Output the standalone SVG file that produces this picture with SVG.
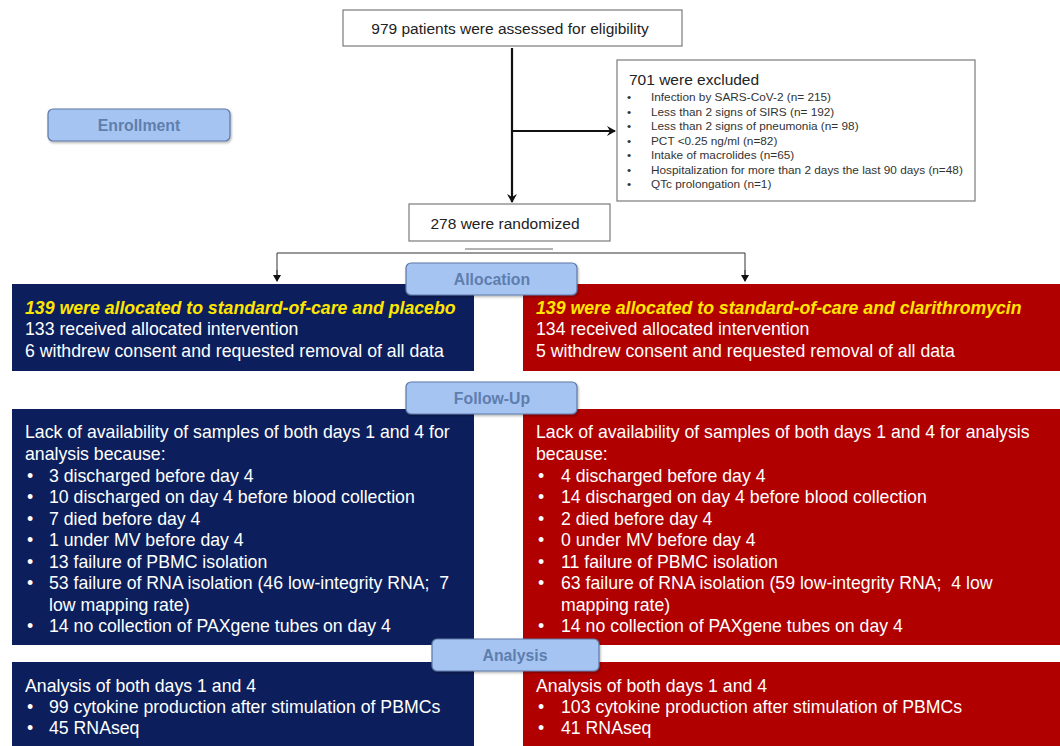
<svg xmlns="http://www.w3.org/2000/svg" width="1060" height="746" viewBox="0 0 1060 746">
<defs>
<style>
text{font-family:"Liberation Sans",Arial,sans-serif;}
.box{fill:#fff;stroke:#7a7a7a;stroke-width:1.2;}
.t14{font-size:15.5px;fill:#222;}
.t11{font-size:11.8px;fill:#333;}
.lbl{fill:#a6c4f2;stroke:#5d78a6;stroke-width:1.2;}
.lblt{font-size:15.8px;font-weight:bold;fill:#5e7eae;text-anchor:middle;}
.blue{fill:#0c1f5c;}
.red{fill:#b10000;}
.w{font-size:17.7px;fill:#fff;}
.y{font-size:17.7px;fill:#ffe600;font-style:italic;font-weight:bold;}
.thick{stroke:#111;stroke-width:2.2;fill:none;}
.thin{stroke:#333;stroke-width:1;fill:none;}
</style>
<marker id="ah" markerWidth="10" markerHeight="10" refX="8" refY="5" orient="auto" markerUnits="userSpaceOnUse">
<path d="M0,0 L9,5 L0,10 L3,5 Z" fill="#111"/>
</marker>
<marker id="ahs" markerWidth="8" markerHeight="8" refX="6" refY="4" orient="auto" markerUnits="userSpaceOnUse">
<path d="M0,0 L7,4 L0,8 Z" fill="#111"/>
</marker>
<filter id="sh" x="-10%" y="-20%" width="120%" height="150%">
<feDropShadow dx="1" dy="1.5" stdDeviation="1" flood-color="#000" flood-opacity="0.3"/>
</filter>
</defs>
<rect width="1060" height="746" fill="#fff"/>

<g id="connectors">
<path class="thick" d="M512,48 V202" marker-end="url(#ah)"/>
<path class="thick" d="M512,131 H615" marker-end="url(#ah)"/>
<path d="M465,249 H553" stroke="#999" stroke-width="1.5"/>
<path class="thin" d="M277,279 V253 H745 V279"/>
<path class="thin" d="M277,270 V281" marker-end="url(#ahs)"/>
<path class="thin" d="M745,270 V281" marker-end="url(#ahs)"/>
</g>

<g id="assessed">
<rect class="box" x="343" y="10" width="339" height="36"/>
<text class="t14" x="510" y="34" text-anchor="middle">979 patients were assessed for eligibility</text>
</g>

<g id="excluded">
<rect class="box" x="617" y="60" width="358" height="141"/>
<text class="t14" x="629" y="85">701 were excluded</text>
<g class="t11">
<text x="627" y="101">•</text><text x="651" y="101">Infection by SARS-CoV-2 (n= 215)</text>
<text x="627" y="115.5">•</text><text x="651" y="115.5">Less than 2 signs of SIRS (n= 192)</text>
<text x="627" y="130">•</text><text x="651" y="130">Less than 2 signs of pneumonia (n= 98)</text>
<text x="627" y="144.5">•</text><text x="651" y="144.5">PCT &lt;0.25 ng/ml (n=82)</text>
<text x="627" y="159">•</text><text x="651" y="159">Intake of macrolides (n=65)</text>
<text x="627" y="173.5">•</text><text x="651" y="173.5">Hospitalization for more than 2 days the last 90 days (n=48)</text>
<text x="627" y="188">•</text><text x="651" y="188">QTc prolongation (n=1)</text>
</g>
</g>

<g id="randomized">
<rect class="box" x="409" y="204" width="201" height="37"/>
<text class="t14" x="505" y="229" text-anchor="middle">278 were randomized</text>
</g>

<g id="enrollment">
<rect class="lbl" x="48" y="109" width="182" height="32" rx="5" filter="url(#sh)"/>
<text class="lblt" x="139" y="131">Enrollment</text>
</g>

<g id="alloc-placebo">
<rect class="blue" x="12" y="284" width="462" height="87"/>
<text class="y" x="25" y="314">139 were allocated to standard-of-care and placebo</text>
<text class="w" x="25" y="335">133 received allocated intervention</text>
<text class="w" x="25" y="357">6 withdrew consent and requested removal of all data</text>
</g>

<g id="alloc-clari">
<rect class="red" x="523" y="284" width="537" height="87"/>
<text class="y" x="536" y="314">139 were allocated to standard-of-care and clarithromycin</text>
<text class="w" x="536" y="335">134 received allocated intervention</text>
<text class="w" x="536" y="357">5 withdrew consent and requested removal of all data</text>
</g>

<g id="allocation-label">
<rect class="lbl" x="406" y="263" width="171" height="32" rx="5" filter="url(#sh)"/>
<text class="lblt" x="492" y="285">Allocation</text>
</g>

<g id="followup-placebo">
<rect class="blue" x="12" y="409" width="462" height="236"/>
<g class="w">
<text x="25" y="438">Lack of availability of samples of both days 1 and 4 for</text>
<text x="25" y="460">analysis because:</text>
<text x="27" y="482">•</text><text x="49" y="482">3 discharged before day 4</text>
<text x="27" y="503">•</text><text x="49" y="503">10 discharged on day 4 before blood collection</text>
<text x="27" y="525">•</text><text x="49" y="525">7 died before day 4</text>
<text x="27" y="546">•</text><text x="49" y="546">1 under MV before day 4</text>
<text x="27" y="568">•</text><text x="49" y="568">13 failure of PBMC isolation</text>
<text x="27" y="589">•</text><text x="49" y="589">53 failure of RNA isolation (46 low-integrity RNA;&#160; 7</text>
<text x="49" y="611">low mapping rate)</text>
<text x="27" y="632">•</text><text x="49" y="632">14 no collection of PAXgene tubes on day 4</text>
</g>
</g>

<g id="followup-clari">
<rect class="red" x="523" y="409" width="537" height="236"/>
<g class="w">
<text x="536" y="438">Lack of availability of samples of both days 1 and 4 for analysis</text>
<text x="536" y="460">because:</text>
<text x="538" y="482">•</text><text x="561" y="482">4 discharged before day 4</text>
<text x="538" y="503">•</text><text x="561" y="503">14 discharged on day 4 before blood collection</text>
<text x="538" y="525">•</text><text x="561" y="525">2 died before day 4</text>
<text x="538" y="546">•</text><text x="561" y="546">0 under MV before day 4</text>
<text x="538" y="568">•</text><text x="561" y="568">11 failure of PBMC isolation</text>
<text x="538" y="589">•</text><text x="561" y="589">63 failure of RNA isolation (59 low-integrity RNA;&#160; 4 low</text>
<text x="561" y="611">mapping rate)</text>
<text x="538" y="632">•</text><text x="561" y="632">14 no collection of PAXgene tubes on day 4</text>
</g>
</g>

<g id="followup-label">
<rect class="lbl" x="406" y="382" width="171" height="32" rx="5" filter="url(#sh)"/>
<text class="lblt" x="492" y="404">Follow-Up</text>
</g>

<g id="analysis-placebo">
<rect class="blue" x="12" y="662" width="462" height="84"/>
<g class="w">
<text x="25" y="692">Analysis of both days 1 and 4</text>
<text x="27" y="713">•</text><text x="49" y="713">99 cytokine production after stimulation of PBMCs</text>
<text x="27" y="734">•</text><text x="49" y="734">45 RNAseq</text>
</g>
</g>

<g id="analysis-clari">
<rect class="red" x="523" y="662" width="537" height="84"/>
<g class="w">
<text x="536" y="692">Analysis of both days 1 and 4</text>
<text x="538" y="713">•</text><text x="561" y="713">103 cytokine production after stimulation of PBMCs</text>
<text x="538" y="734">•</text><text x="561" y="734">41 RNAseq</text>
</g>
</g>

<g id="analysis-label">
<rect class="lbl" x="432" y="639" width="167" height="32" rx="5" filter="url(#sh)"/>
<text class="lblt" x="515" y="661">Analysis</text>
</g>
</svg>
